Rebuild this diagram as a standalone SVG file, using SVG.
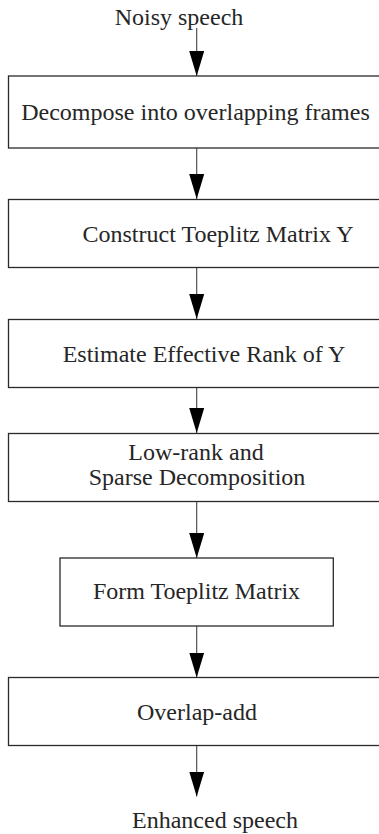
<svg xmlns="http://www.w3.org/2000/svg" width="379" height="834" viewBox="0 0 379 834">
<style>
.box{fill:#fff;stroke:#2a2a2a;stroke-width:1.3}
.lbl{font-family:"Liberation Serif","Times New Roman",serif;font-size:24px;fill:#262626;text-anchor:middle}
.con{stroke:#444;stroke-width:1.1;fill:none;marker-end:url(#ah)}
</style>
<defs>
<marker id="ah" markerUnits="userSpaceOnUse" markerWidth="26" markerHeight="16" refX="25" refY="7.5" orient="auto">
<path d="M0,0 L25,7.5 L0,15 z" fill="#000"/>
</marker>
</defs>
<rect width="379" height="834" fill="#fff"/>
<g id="connectors">
<line class="con" x1="196.7" y1="28" x2="196.7" y2="76"/>
<line class="con" x1="196.7" y1="148" x2="196.7" y2="199"/>
<line class="con" x1="196.7" y1="268" x2="196.7" y2="319"/>
<line class="con" x1="196.7" y1="387.5" x2="196.7" y2="433"/>
<line class="con" x1="196.7" y1="502" x2="196.7" y2="558"/>
<line class="con" x1="196.7" y1="626" x2="196.7" y2="677.5"/>
<line class="con" x1="196.7" y1="746" x2="196.7" y2="796.5"/>
</g>
<g id="input"><text class="lbl" x="179" y="25">Noisy speech</text></g>
<g id="n1">
<rect class="box" x="8.5" y="76" width="380" height="72"/>
<text class="lbl" x="195.5" y="119.5">Decompose into overlapping frames</text>
</g>
<g id="n2">
<rect class="box" x="8.5" y="199.5" width="380" height="68"/>
<text class="lbl" x="218" y="241.7">Construct Toeplitz Matrix Y</text>
</g>
<g id="n3">
<rect class="box" x="8.5" y="319.5" width="380" height="68"/>
<text class="lbl" x="204" y="361.5">Estimate Effective Rank of Y</text>
</g>
<g id="n4">
<rect class="box" x="8.5" y="433.5" width="380" height="68"/>
<text class="lbl" x="196" y="459.5">Low-rank and</text>
<text class="lbl" x="197" y="485">Sparse Decomposition</text>
</g>
<g id="n5">
<rect class="box" x="60" y="558" width="273.3" height="68"/>
<text class="lbl" x="196.5" y="599.3">Form Toeplitz Matrix</text>
</g>
<g id="n6">
<rect class="box" x="8.5" y="677.5" width="380" height="68"/>
<text class="lbl" x="197" y="719.5">Overlap-add</text>
</g>
<g id="output"><text class="lbl" x="215" y="828">Enhanced speech</text></g>
</svg>
